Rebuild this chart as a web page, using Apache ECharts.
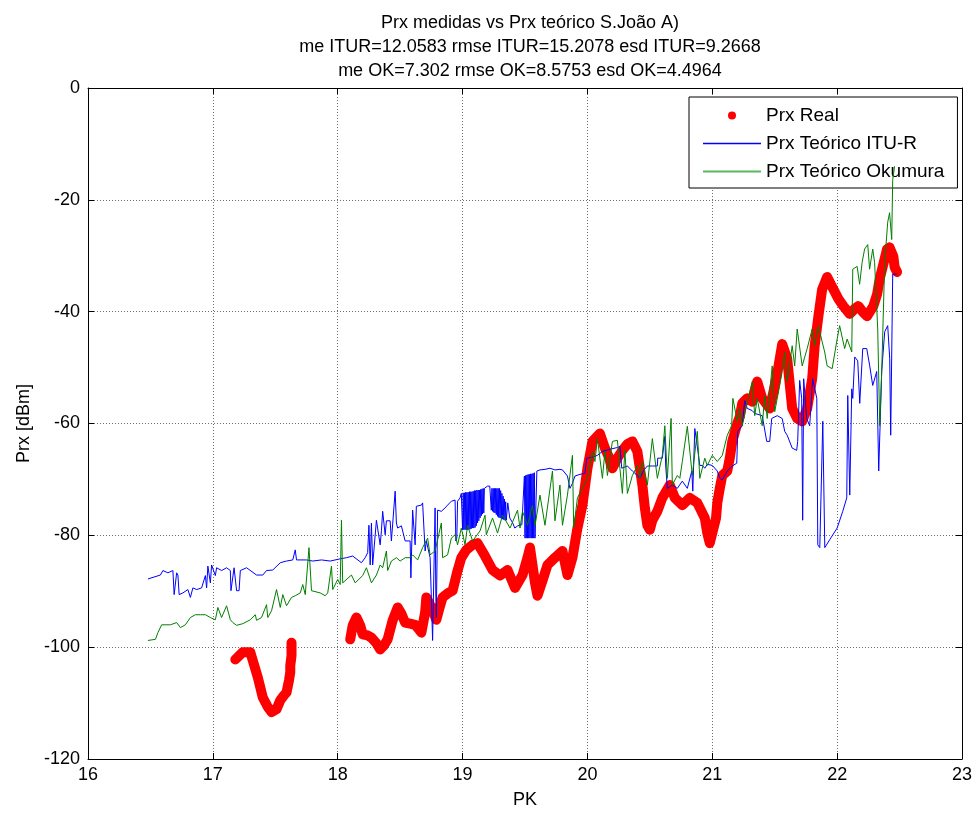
<!DOCTYPE html>
<html>
<head>
<meta charset="utf-8">
<script src="https://cdn.jsdelivr.net/npm/echarts@6/dist/echarts.min.js"></script>
<style>
  html, body { margin: 0; padding: 0; background: #fff; }
  #chart { width: 978px; height: 814px; }
</style>
</head>
<body>
<div id="chart"></div>
<script>
// Axis ticks
const pkTicks = [16, 17, 18, 19, 20, 21, 22, 23];
const prxTicks = [-120, -100, -80, -60, -40, -20, 0];

// Measured received power [PK, dBm] (null = no measurement)
const realPrx = [
  [17.18,-102.2],[17.24,-100.9],[17.30,-100.9],[17.32,-102.4],[17.36,-105.4],[17.40,-109.0],
  [17.44,-110.7],[17.47,-111.6],[17.51,-111.1],[17.54,-109.5],[17.57,-108.6],[17.59,-108.1],
  [17.61,-105.9],[17.62,-104.5],[17.62,-103.3],[17.63,-101.5],[17.63,-99.2],
  [17.90,null],
  [18.10,-98.6],[18.12,-96.1],[18.15,-94.7],[18.18,-96.1],[18.20,-97.7],[18.24,-97.9],
  [18.27,-98.3],[18.31,-99.3],[18.34,-100.4],[18.37,-99.7],[18.40,-98.6],[18.44,-95.2],
  [18.48,-92.9],[18.51,-94.0],[18.54,-95.6],[18.58,-95.8],[18.62,-96.0],[18.65,-96.8],
  [18.67,-97.4],[18.70,-93.8],[18.71,-91.1],[18.75,-92.9],[18.79,-95.1],[18.82,-92.6],
  [18.84,-91.1],[18.88,-90.4],[18.92,-89.9],[18.96,-86.3],[18.99,-84.0],[19.03,-82.6],
  [19.08,-81.7],[19.12,-81.4],[19.18,-83.7],[19.24,-86.2],[19.30,-87.2],[19.36,-86.2],
  [19.42,-89.4],[19.48,-87.1],[19.52,-84.0],[19.54,-82.2],[19.56,-85.3],[19.58,-88.5],
  [19.60,-90.8],[19.64,-88.1],[19.68,-85.3],[19.74,-84.0],[19.80,-82.8],[19.84,-87.1],
  [19.88,-84.0],[19.92,-78.7],[19.96,-74.6],[20.00,-68.0],[20.04,-63.2],[20.10,-61.8],
  [20.14,-64.4],[20.17,-65.9],[20.20,-68.0],[20.24,-66.2],[20.28,-64.8],[20.32,-63.7],
  [20.36,-63.2],[20.40,-65.0],[20.44,-71.0],[20.46,-75.1],[20.48,-78.2],[20.50,-79.0],
  [20.52,-77.3],[20.56,-75.7],[20.60,-73.3],[20.66,-71.0],[20.70,-73.3],[20.76,-74.6],
  [20.82,-73.3],[20.88,-74.2],[20.94,-76.9],[20.96,-79.6],[20.98,-81.4],[21.00,-79.6],
  [21.03,-76.9],[21.04,-74.2],[21.06,-71.6],[21.08,-69.3],[21.12,-68.5],[21.14,-66.2],
  [21.16,-63.2],[21.20,-60.0],[21.22,-58.8],[21.24,-56.4],[21.28,-55.5],[21.32,-56.1],
  [21.36,-52.5],[21.40,-55.5],[21.46,-57.3],[21.49,-54.3],[21.52,-51.1],[21.56,-45.8],
  [21.60,-48.4],[21.62,-52.9],[21.64,-57.3],[21.68,-59.1],[21.72,-59.6],[21.76,-57.3],
  [21.80,-52.0],[21.82,-46.1],[21.85,-40.8],[21.88,-36.0],[21.92,-33.8],[21.97,-36.0],
  [22.01,-37.7],[22.05,-39.0],[22.10,-40.4],[22.14,-39.5],[22.17,-39.0],[22.20,-39.9],
  [22.24,-40.8],[22.29,-39.0],[22.32,-36.9],[22.34,-34.2],[22.37,-31.5],[22.40,-28.8],
  [22.42,-28.5],[22.45,-30.1],[22.46,-32.0],[22.48,-32.9]
];

// ITU-R model prediction [PK, dBm]
const ituPrx = [
  [16.48,-87.8],[16.58,-87.1],[16.60,-86.3],[16.64,-86.7],[16.68,-86.3],[16.69,-90.6],
  [16.71,-86.7],[16.72,-87.1],[16.73,-90.6],[16.76,-90.3],[16.80,-89.7],[16.82,-91.1],
  [16.84,-89.4],[16.87,-89.7],[16.91,-89.4],[16.94,-87.2],[16.95,-89.4],[16.96,-85.5],
  [16.98,-88.5],[16.99,-85.3],[17.02,-87.2],[17.03,-85.8],[17.07,-86.3],[17.11,-85.8],
  [17.14,-86.3],[17.145,-89.9],[17.16,-89.9],[17.17,-85.8],[17.185,-85.8],[17.19,-89.9],
  [17.21,-89.9],[17.22,-86.3],[17.27,-85.8],[17.35,-87.1],[17.40,-87.1],[17.43,-86.3],
  [17.48,-86.2],[17.54,-84.9],[17.59,-84.6],[17.64,-84.4],[17.66,-82.6],[17.67,-84.4],
  [17.75,-84.4],[17.80,-84.6],[17.87,-84.4],[17.94,-84.6],[18.02,-84.2],[18.07,-84.0],
  [18.12,-83.7],[18.19,-84.9],[18.22,-84.0],[18.24,-83.1],[18.25,-78.2],[18.26,-85.3],
  [18.27,-77.8],[18.28,-85.3],[18.31,-77.3],[18.34,-81.7],[18.35,-79.2],[18.36,-75.7],
  [18.38,-79.9],[18.39,-77.4],[18.42,-77.4],[18.43,-81.0],[18.46,-72.1],[18.47,-77.8],
  [18.48,-78.7],[18.51,-78.3],[18.54,-81.0],[18.58,-81.0],[18.586,-87.6],[18.60,-75.5],
  [18.62,-81.7],[18.63,-74.8],[18.67,-74.6],[18.68,-74.2],[18.70,-82.8],[18.71,-81.0],
  [18.74,-84.0],[18.75,-91.1],[18.76,-98.8],[18.78,-75.1],[18.786,-91.1],[18.79,-94.7],
  [18.80,-75.5],[18.83,-75.7],[18.86,-75.1],[18.88,-74.6],[18.91,-73.9],[18.94,-73.7],
  [18.946,-81.0],[18.954,-80.5],[18.96,-73.9],[18.98,-73.3],[18.99,-72.5],
  [19.000,-79.0],[19.005,-72.4],[19.010,-79.0],[19.015,-72.4],[19.020,-79.0],[19.025,-72.3],
  [19.030,-79.0],[19.035,-72.3],[19.040,-79.0],[19.045,-72.3],[19.050,-79.0],[19.055,-72.2],
  [19.060,-78.9],[19.065,-72.2],[19.070,-78.8],[19.075,-72.2],[19.080,-78.7],[19.085,-72.1],
  [19.090,-78.7],[19.095,-72.0],[19.100,-78.6],[19.105,-72.0],[19.110,-78.3],[19.115,-71.9],
  [19.120,-77.8],[19.125,-71.9],[19.130,-77.4],[19.135,-71.9],[19.140,-76.9],[19.145,-71.8],
  [19.150,-76.5],[19.155,-71.7],[19.160,-76.2],[19.165,-71.6],[19.170,-76.0],[19.175,-71.6],
  [19.185,-71.6],[19.200,-71.2],[19.218,-71.2],
  [19.230,-75.5],[19.235,-71.6],[19.240,-75.7],[19.245,-71.6],[19.250,-75.9],[19.255,-71.6],
  [19.260,-76.0],[19.265,-71.6],[19.270,-76.3],[19.275,-71.6],[19.280,-76.6],[19.285,-71.6],
  [19.290,-76.8],[19.295,-71.6],[19.300,-76.9],[19.305,-72.0],[19.310,-77.0],[19.315,-72.5],
  [19.320,-77.1],[19.325,-73.0],[19.330,-77.2],[19.335,-73.5],[19.340,-77.3],[19.345,-74.0],
  [19.350,-77.3],[19.362,-74.2],[19.378,-76.9],[19.402,-77.8],
  [19.418,-78.7],[19.442,-78.3],[19.475,-78.1],
  [19.495,-69.4],[19.500,-80.5],[19.505,-69.3],[19.510,-80.5],[19.515,-69.2],[19.520,-80.5],
  [19.525,-69.1],[19.530,-80.5],[19.535,-69.1],[19.540,-80.5],[19.545,-69.0],[19.550,-80.5],
  [19.555,-69.0],[19.560,-80.5],[19.565,-68.9],[19.570,-80.5],[19.575,-68.8],[19.580,-80.5],
  [19.595,-68.5],
  [19.62,-68.3],[19.66,-68.2],[19.70,-68.0],[19.74,-68.3],[19.78,-68.2],[19.80,-68.3],
  [19.84,-69.4],[19.86,-71.6],[19.88,-70.7],[19.90,-69.4],[19.94,-69.1],[19.98,-68.9],
  [19.995,-66.2],[20.04,-66.0],[20.08,-65.7],[20.12,-65.0],[20.18,-64.6],[20.24,-64.3],
  [20.26,-64.1],[20.275,-68.0],[20.32,-67.6],[20.36,-68.5],[20.39,-69.1],[20.42,-69.8],
  [20.45,-68.4],[20.48,-67.6],[20.52,-67.6],[20.56,-67.6],[20.563,-66.2],[20.60,-66.2],
  [20.62,-62.3],[20.627,-67.6],[20.64,-71.6],[20.68,-71.0],[20.72,-71.6],[20.76,-70.3],
  [20.80,-71.6],[20.836,-68.5],[20.844,-72.1],[20.86,-60.9],[20.88,-64.1],[20.90,-67.5],
  [20.92,-67.5],[20.94,-68.0],[20.96,-67.3],[21.00,-67.5],[21.04,-68.5],[21.06,-69.8],
  [21.08,-70.1],[21.12,-68.5],[21.16,-67.6],[21.196,-67.1],[21.204,-61.4],[21.24,-60.4],
  [21.26,-55.9],[21.28,-57.3],[21.32,-57.7],[21.34,-58.2],[21.40,-58.6],[21.436,-63.2],
  [21.46,-63.2],[21.476,-59.1],[21.52,-58.6],[21.56,-59.1],[21.58,-61.4],[21.60,-62.1],
  [21.64,-64.4],[21.676,-64.8],[21.684,-63.2],[21.70,-52.3],[21.716,-55.5],[21.724,-77.3],
  [21.732,-52.0],[21.756,-59.1],[21.78,-60.4],[21.804,-52.0],[21.837,-55.5],[21.845,-81.7],
  [21.861,-82.2],[21.885,-59.6],[21.901,-82.2],[21.94,-80.8],[22.00,-78.7],[22.045,-75.7],
  [22.077,-73.3],[22.085,-55.0],[22.101,-72.8],[22.117,-53.8],[22.125,-55.5],[22.141,-48.1],
  [22.165,-48.8],[22.181,-56.4],[22.205,-46.6],[22.237,-46.6],[22.261,-49.7],[22.285,-53.2],
  [22.317,-50.7],[22.333,-68.5],[22.357,-50.6],[22.381,-43.6],[22.405,-42.5],[22.421,-48.4],
  [22.429,-62.1],[22.445,-33.3],[22.477,-33.3]
];

// Okumura model prediction [PK, dBm]
const okumuraPrx = [
  [16.48,-98.8],[16.54,-98.6],[16.56,-97.4],[16.59,-96.0],[16.66,-96.0],[16.71,-95.6],
  [16.74,-96.5],[16.78,-96.0],[16.82,-94.7],[16.86,-94.2],[16.90,-94.2],[16.94,-94.2],
  [16.98,-94.7],[17.02,-95.1],[17.04,-92.9],[17.07,-94.7],[17.11,-92.6],[17.14,-95.1],
  [17.16,-95.6],[17.19,-96.1],[17.24,-95.8],[17.30,-95.1],[17.34,-94.2],[17.35,-95.2],
  [17.39,-94.7],[17.43,-92.4],[17.44,-94.7],[17.47,-93.5],[17.51,-89.7],[17.54,-92.9],
  [17.56,-90.6],[17.59,-92.6],[17.63,-91.1],[17.66,-90.8],[17.70,-90.3],[17.72,-88.8],
  [17.74,-90.6],[17.77,-82.2],[17.79,-89.9],[17.86,-90.3],[17.90,-90.8],[17.92,-90.3],
  [17.95,-85.5],[17.96,-89.7],[18.00,-87.9],[18.02,-88.8],[18.03,-77.3],[18.04,-88.5],
  [18.11,-87.1],[18.14,-88.5],[18.20,-87.2],[18.23,-85.8],[18.27,-88.5],[18.31,-87.1],
  [18.34,-85.3],[18.36,-85.8],[18.39,-82.8],[18.40,-86.3],[18.43,-84.6],[18.47,-84.0],
  [18.50,-84.6],[18.54,-84.0],[18.58,-84.0],[18.60,-83.5],[18.64,-84.4],[18.68,-82.2],
  [18.72,-80.5],[18.74,-83.5],[18.78,-82.8],[18.83,-77.8],[18.84,-84.0],[18.88,-83.5],
  [18.91,-80.5],[18.94,-79.9],[18.96,-81.7],[18.99,-78.7],[19.02,-81.7],[19.04,-78.2],
  [19.08,-81.0],[19.14,-79.2],[19.18,-76.4],[19.19,-79.9],[19.24,-76.9],[19.28,-79.6],
  [19.32,-76.4],[19.38,-78.7],[19.44,-75.5],[19.46,-78.7],[19.48,-75.7],[19.52,-78.2],
  [19.56,-74.6],[19.58,-78.3],[19.62,-72.8],[19.66,-78.2],[19.72,-68.5],[19.74,-77.4],
  [19.78,-71.0],[19.80,-78.2],[19.84,-72.8],[19.88,-65.7],[19.89,-78.7],[19.92,-73.3],
  [19.96,-71.6],[20.00,-69.8],[20.04,-65.0],[20.06,-66.8],[20.08,-62.7],[20.12,-69.8],
  [20.14,-65.0],[20.16,-69.3],[20.20,-63.2],[20.24,-63.0],[20.26,-68.0],[20.28,-72.5],
  [20.30,-64.8],[20.32,-72.5],[20.36,-69.3],[20.40,-67.5],[20.42,-69.8],[20.44,-66.8],
  [20.48,-71.0],[20.52,-62.7],[20.56,-69.8],[20.60,-65.7],[20.62,-60.4],[20.64,-69.8],
  [20.67,-59.1],[20.68,-71.0],[20.72,-69.3],[20.74,-69.8],[20.76,-66.8],[20.80,-60.5],
  [20.84,-69.3],[20.88,-61.4],[20.90,-69.8],[20.94,-66.2],[20.96,-67.5],[21.00,-65.7],
  [21.04,-66.8],[21.08,-65.7],[21.12,-62.1],[21.155,-60.4],[21.165,-55.5],[21.20,-59.6],
  [21.22,-57.3],[21.24,-60.4],[21.28,-56.1],[21.32,-52.5],[21.34,-58.6],[21.36,-55.5],
  [21.40,-60.4],[21.42,-55.0],[21.44,-59.1],[21.48,-49.7],[21.50,-57.9],[21.54,-53.2],
  [21.58,-47.2],[21.60,-52.5],[21.64,-46.1],[21.66,-49.7],[21.68,-43.1],[21.72,-49.7],
  [21.76,-46.6],[21.80,-43.1],[21.82,-46.1],[21.85,-42.5],[21.88,-45.4],[21.90,-47.2],
  [21.92,-49.7],[21.96,-50.2],[22.00,-44.9],[22.02,-42.5],[22.06,-46.6],[22.08,-44.9],
  [22.117,-47.2],[22.125,-32.4],[22.16,-31.9],[22.18,-35.1],[22.20,-31.2],[22.22,-28.8],
  [22.245,-28.0],[22.26,-32.4],[22.285,-28.8],[22.30,-31.2],[22.325,-43.1],[22.341,-60.4],
  [22.357,-50.7],[22.381,-31.2],[22.405,-24.0],[22.42,-22.3],[22.437,-27.1],[22.445,-16.4],
  [22.46,-14.0]
];

const FONT = 'Arial, "Liberation Sans", Helvetica, sans-serif';

const chart = echarts.init(document.getElementById('chart'), null, { renderer: 'canvas' });

const gridLine = { show: true, lineStyle: { color: '#6e6e6e', type: [1, 2], width: 1 } };
const boxLine = { show: true, onZero: false, lineStyle: { color: '#000', width: 1 } };
const tickIn = { show: true, inside: true, length: 6, lineStyle: { color: '#000' } };

chart.setOption({
  animation: false,
  backgroundColor: '#fff',
  title: {
    text: 'Prx medidas vs Prx teórico S.João A)\nme ITUR=12.0583 rmse ITUR=15.2078 esd ITUR=9.2668\nme OK=7.302 rmse OK=8.5753 esd OK=4.4964',
    left: 525,
    textAlign: 'center',
    top: 6,
    textStyle: { fontFamily: FONT, fontSize: 18, fontWeight: 'normal', color: '#000', lineHeight: 24 }
  },
  grid: { left: 88, top: 88, right: 16, bottom: 52, containLabel: false },
  legend: {
    orient: 'vertical',
    left: 689,
    top: 97,
    padding: [9, 13, 7, 13],
    itemWidth: 58,
    itemHeight: 8,
    itemGap: 9,
    backgroundColor: '#fff',
    borderColor: '#000',
    borderWidth: 1,
    textStyle: { fontFamily: FONT, fontSize: 19, color: '#000' },
    data: [
      { name: 'Prx Real', icon: 'circle' },
      // line-only keys: the marker in the middle of the key is hidden
      { name: 'Prx Teórico ITU-R', itemStyle: { opacity: 0 },
        lineStyle: { color: '#0000ff', width: 1.5 } },
      { name: 'Prx Teórico Okumura', itemStyle: { opacity: 0 },
        lineStyle: { color: '#5cb85c', width: 2 } }
    ]
  },
  xAxis: [
    {
      type: 'value', position: 'bottom',
      min: pkTicks[0], max: pkTicks[pkTicks.length - 1], interval: 1,
      name: 'PK', nameLocation: 'middle', nameGap: 32,
      nameTextStyle: { fontFamily: FONT, fontSize: 18, color: '#000' },
      axisLine: boxLine, axisTick: tickIn, splitLine: gridLine,
      axisLabel: { fontFamily: FONT, fontSize: 18, color: '#000', margin: 7 }
    },
    {
      type: 'value', position: 'top',
      min: pkTicks[0], max: pkTicks[pkTicks.length - 1], interval: 1,
      axisLine: boxLine, axisTick: tickIn, splitLine: { show: false },
      axisLabel: { show: false }
    }
  ],
  yAxis: [
    {
      type: 'value', position: 'left',
      min: prxTicks[0], max: prxTicks[prxTicks.length - 1], interval: 20,
      name: 'Prx [dBm]', nameLocation: 'middle', nameGap: 54,
      nameTextStyle: { fontFamily: FONT, fontSize: 18, color: '#000' },
      axisLine: boxLine, axisTick: tickIn, splitLine: gridLine,
      axisLabel: { fontFamily: FONT, fontSize: 18, color: '#000', margin: 8 }
    },
    {
      type: 'value', position: 'right',
      min: prxTicks[0], max: prxTicks[prxTicks.length - 1], interval: 20,
      axisLine: boxLine, axisTick: tickIn, splitLine: { show: false },
      axisLabel: { show: false }
    }
  ],
  series: [
    {
      name: 'Prx Real', type: 'line', data: realPrx,
      xAxisIndex: 0, yAxisIndex: 0, z: 2,
      symbol: 'none', connectNulls: false,
      itemStyle: { color: '#ff0000' },
      lineStyle: { color: '#ff0000', width: 10, cap: 'round', join: 'round' }
    },
    {
      name: 'Prx Teórico ITU-R', type: 'line', data: ituPrx,
      xAxisIndex: 0, yAxisIndex: 0, z: 3,
      symbol: 'none',
      itemStyle: { color: '#0000ff' },
      lineStyle: { color: '#0000ff', width: 1 }
    },
    {
      name: 'Prx Teórico Okumura', type: 'line', data: okumuraPrx,
      xAxisIndex: 0, yAxisIndex: 0, z: 4,
      symbol: 'none',
      itemStyle: { color: '#008000' },
      lineStyle: { color: '#008000', width: 1 }
    }
  ]
});
</script>
</body>
</html>
